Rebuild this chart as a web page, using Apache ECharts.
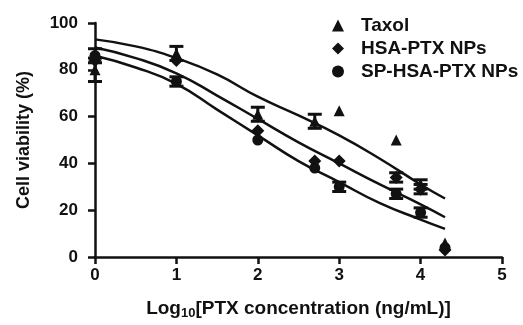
<!DOCTYPE html>
<html lang="en" style="height: 100%">
<head>
  <meta charset="utf-8">
</head>
<body style="height: 100%; margin: 0; background: #fff">
  <div id="container" style="width: 523px; height: 325px"></div>

  <script type="text/javascript" src="https://cdn.jsdelivr.net/npm/echarts@6/dist/echarts.min.js"></script>

  <script type="text/javascript">
    // measured points: log10 dose, mean viability, error
    var doses = [0, 1, 2, 2.7, 3, 3.7, 4, 4.3];
    var taxol = [80, 87, 61, 58, 62.5, 50, 31, 6];
    var taxolErr = [5, 3, 3, 3, 0, 0, 2, 0];
    var hsa = [84, 84, 54, 41, 41, 34, 29, 3];
    var hsaErr = [0, 0, 0, 0, 0, 2, 2, 0];
    var sp = [86, 75, 50, 38, 30, 27, 19, 4];
    var spErr = [3, 2, 0, 0, 2, 2, 2, 0];

    // fitted curves
    var fitX = [0, 0.5, 1, 1.5, 2, 2.5, 3, 3.5, 4, 4.3];
    var taxolFit = [93, 90, 85, 78, 68.5, 60.5, 52, 42, 31, 25];
    var hsaFit = [89.5, 85, 78.5, 69, 59, 49, 40, 31, 22.5, 17];
    var spFit = [86, 81, 74, 63, 52, 41, 32, 23, 16, 12];

    var ink = '#111';
    var font = 'Arial, "Liberation Sans", sans-serif';

    function pairs(xs, ys) {
      return xs.map(function (x, i) { return [x, ys[i]]; });
    }
    function errRows(ys, errs) {
      var out = [];
      doses.forEach(function (x, i) {
        if (errs[i] > 0) out.push([x, ys[i], errs[i]]);
      });
      return out;
    }

    function renderErr(params, api) {
      var x = api.value(0), y = api.value(1), e = api.value(2);
      var top = api.coord([x, y + e]);
      var bot = api.coord([x, y - e]);
      var w = 7;
      var st = { stroke: ink, lineWidth: 3 };
      return {
        type: 'group',
        children: [
          { type: 'line', shape: { x1: top[0], y1: top[1], x2: bot[0], y2: bot[1] }, style: st },
          { type: 'line', shape: { x1: top[0] - w, y1: top[1], x2: top[0] + w, y2: top[1] }, style: st },
          { type: 'line', shape: { x1: bot[0] - w, y1: bot[1], x2: bot[0] + w, y2: bot[1] }, style: st }
        ]
      };
    }

    function fitLine(ys) {
      return {
        type: 'line', data: pairs(fitX, ys), smooth: true, symbol: 'none',
        lineStyle: { color: ink, width: 2.5 }, silent: true, z: 1
      };
    }
    function errSeries(ys, errs) {
      return { type: 'custom', renderItem: renderErr, data: errRows(ys, errs), z: 3, silent: true };
    }
    var dot = { color: ink, opacity: 1 };

    var chart = echarts.init(document.getElementById('container'), null, { renderer: 'canvas' });

    chart.setOption({
      animation: false,
      backgroundColor: '#fff',
      grid: { left: 95, right: 21, top: 23, bottom: 65 },
      legend: {
        orient: 'vertical',
        left: 327, top: 11,
        itemGap: 4,
        itemWidth: 12, itemHeight: 12,
        textStyle: { fontFamily: font, fontWeight: 'bold', fontSize: 19, color: ink, padding: [0, 0, 0, 12] },
        data: [
          { name: 'Taxol', icon: 'triangle', itemStyle: dot },
          { name: 'HSA-PTX NPs', icon: 'diamond', itemStyle: dot },
          { name: 'SP-HSA-PTX NPs', icon: 'circle', itemStyle: dot }
        ]
      },
      xAxis: {
        type: 'value', min: 0, max: 5, interval: 1,
        axisLine: { lineStyle: { color: ink, width: 2.5 } },
        axisTick: { length: 7, lineStyle: { color: ink, width: 2.5 } },
        splitLine: { show: false },
        axisLabel: { fontFamily: font, fontWeight: 'bold', fontSize: 17, color: ink, margin: 10 },
        name: '{a|Log}{s|10}{a|[PTX concentration (ng/mL)]}',
        nameLocation: 'middle', nameGap: 40,
        nameTextStyle: {
          rich: {
            a: { fontFamily: font, fontWeight: 'bold', fontSize: 19, color: ink },
            s: { fontFamily: font, fontWeight: 'bold', fontSize: 13, color: ink, verticalAlign: 'bottom', padding: [10, 0, 0, 0] }
          }
        }
      },
      yAxis: {
        type: 'value', min: 0, max: 100, interval: 20,
        axisLine: { show: true, lineStyle: { color: ink, width: 2.5 } },
        axisTick: { show: true, length: 7, lineStyle: { color: ink, width: 2.5 } },
        splitLine: { show: false },
        axisLabel: { fontFamily: font, fontWeight: 'bold', fontSize: 17, color: ink, margin: 17 },
        name: 'Cell viability (%)',
        nameLocation: 'middle', nameGap: 62,
        nameTextStyle: { fontFamily: font, fontWeight: 'bold', fontSize: 18, color: ink }
      },
      series: [
        fitLine(taxolFit),
        fitLine(hsaFit),
        fitLine(spFit),
        errSeries(taxol, taxolErr),
        errSeries(hsa, hsaErr),
        errSeries(sp, spErr),
        { name: 'Taxol', type: 'scatter', symbol: 'triangle', symbolSize: 11, data: pairs(doses, taxol), itemStyle: dot, z: 4 },
        { name: 'HSA-PTX NPs', type: 'scatter', symbol: 'diamond', symbolSize: 13, data: pairs(doses, hsa), itemStyle: dot, z: 4 },
        { name: 'SP-HSA-PTX NPs', type: 'scatter', symbol: 'circle', symbolSize: 11, data: pairs(doses, sp), itemStyle: dot, z: 4 }
      ]
    });

    window.addEventListener('resize', function () { chart.resize(); });
  </script>
</body>
</html>
